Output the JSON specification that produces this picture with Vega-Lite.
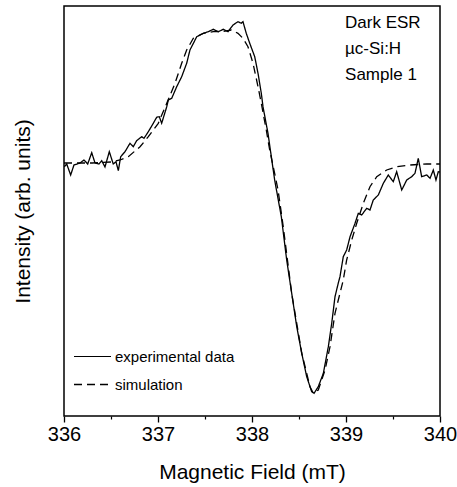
{
  "$schema": "https://vega.github.io/schema/vega-lite/v6.json",
  "width": 376,
  "height": 410,
  "autosize": "none",
  "padding": {"left": 64, "top": 6, "right": 17, "bottom": 71},
  "background": "white",
  "config": {
    "font": "Liberation Sans",
    "view": {"stroke": "black", "strokeWidth": 1.5},
    "axis": {"labelFont": "Liberation Sans", "titleFont": "Liberation Sans", "labelColor": "black", "titleColor": "black", "grid": false, "titleFontWeight": "normal"}
  },
  "datasets": {
    "esr": [
      {"f": 336.003, "v": -2.7, "s": "experimental data"},
      {"f": 336.029, "v": 0, "s": "experimental data"},
      {"f": 336.071, "v": -11, "s": "experimental data"},
      {"f": 336.106, "v": -1, "s": "experimental data"},
      {"f": 336.170, "v": 1, "s": "experimental data"},
      {"f": 336.213, "v": 4, "s": "experimental data"},
      {"f": 336.252, "v": 0, "s": "experimental data"},
      {"f": 336.295, "v": 11.3, "s": "experimental data"},
      {"f": 336.330, "v": 1, "s": "experimental data"},
      {"f": 336.372, "v": 0, "s": "experimental data"},
      {"f": 336.401, "v": 3.3, "s": "experimental data"},
      {"f": 336.436, "v": -3, "s": "experimental data"},
      {"f": 336.482, "v": 12.3, "s": "experimental data"},
      {"f": 336.524, "v": 0, "s": "experimental data"},
      {"f": 336.553, "v": 2.3, "s": "experimental data"},
      {"f": 336.578, "v": -6.7, "s": "experimental data"},
      {"f": 336.603, "v": 7.3, "s": "experimental data"},
      {"f": 336.649, "v": 12.3, "s": "experimental data"},
      {"f": 336.702, "v": 20.7, "s": "experimental data"},
      {"f": 336.737, "v": 17.3, "s": "experimental data"},
      {"f": 336.773, "v": 23.3, "s": "experimental data"},
      {"f": 336.827, "v": 27.3, "s": "experimental data"},
      {"f": 336.851, "v": 25.7, "s": "experimental data"},
      {"f": 336.897, "v": 32.3, "s": "experimental data"},
      {"f": 336.950, "v": 40.7, "s": "experimental data"},
      {"f": 336.986, "v": 46.7, "s": "experimental data"},
      {"f": 337.014, "v": 47.3, "s": "experimental data"},
      {"f": 337.039, "v": 40.7, "s": "experimental data"},
      {"f": 337.093, "v": 57.3, "s": "experimental data"},
      {"f": 337.110, "v": 64, "s": "experimental data"},
      {"f": 337.146, "v": 65.7, "s": "experimental data"},
      {"f": 337.199, "v": 77.3, "s": "experimental data"},
      {"f": 337.252, "v": 87.3, "s": "experimental data"},
      {"f": 337.305, "v": 100.7, "s": "experimental data"},
      {"f": 337.340, "v": 114, "s": "experimental data"},
      {"f": 337.412, "v": 127.3, "s": "experimental data"},
      {"f": 337.482, "v": 130.7, "s": "experimental data"},
      {"f": 337.535, "v": 132.3, "s": "experimental data"},
      {"f": 337.588, "v": 134.7, "s": "experimental data"},
      {"f": 337.641, "v": 132.3, "s": "experimental data"},
      {"f": 337.695, "v": 134.7, "s": "experimental data"},
      {"f": 337.745, "v": 132.3, "s": "experimental data"},
      {"f": 337.798, "v": 139, "s": "experimental data"},
      {"f": 337.851, "v": 142.3, "s": "experimental data"},
      {"f": 337.886, "v": 140.7, "s": "experimental data"},
      {"f": 337.904, "v": 142.3, "s": "experimental data"},
      {"f": 337.939, "v": 130.7, "s": "experimental data"},
      {"f": 337.976, "v": 120.7, "s": "experimental data"},
      {"f": 338.029, "v": 107.3, "s": "experimental data"},
      {"f": 338.064, "v": 90.7, "s": "experimental data"},
      {"f": 338.099, "v": 70.7, "s": "experimental data"},
      {"f": 338.117, "v": 57.3, "s": "experimental data"},
      {"f": 338.170, "v": 30.7, "s": "experimental data"},
      {"f": 338.241, "v": -16, "s": "experimental data"},
      {"f": 338.312, "v": -52.7, "s": "experimental data"},
      {"f": 338.369, "v": -96, "s": "experimental data"},
      {"f": 338.422, "v": -129, "s": "experimental data"},
      {"f": 338.476, "v": -162.7, "s": "experimental data"},
      {"f": 338.529, "v": -189.3, "s": "experimental data"},
      {"f": 338.582, "v": -212.7, "s": "experimental data"},
      {"f": 338.635, "v": -227.7, "s": "experimental data"},
      {"f": 338.660, "v": -229.3, "s": "experimental data"},
      {"f": 338.705, "v": -222.7, "s": "experimental data"},
      {"f": 338.759, "v": -209.3, "s": "experimental data"},
      {"f": 338.812, "v": -182.7, "s": "experimental data"},
      {"f": 338.848, "v": -159.3, "s": "experimental data"},
      {"f": 338.883, "v": -132.7, "s": "experimental data"},
      {"f": 338.918, "v": -119, "s": "experimental data"},
      {"f": 338.936, "v": -112.7, "s": "experimental data"},
      {"f": 338.971, "v": -92.7, "s": "experimental data"},
      {"f": 339.007, "v": -86, "s": "experimental data"},
      {"f": 339.043, "v": -72.7, "s": "experimental data"},
      {"f": 339.096, "v": -59.3, "s": "experimental data"},
      {"f": 339.131, "v": -49.3, "s": "experimental data"},
      {"f": 339.167, "v": -51, "s": "experimental data"},
      {"f": 339.220, "v": -44.3, "s": "experimental data"},
      {"f": 339.255, "v": -46, "s": "experimental data"},
      {"f": 339.290, "v": -36, "s": "experimental data"},
      {"f": 339.344, "v": -31, "s": "experimental data"},
      {"f": 339.397, "v": -19.3, "s": "experimental data"},
      {"f": 339.450, "v": -11, "s": "experimental data"},
      {"f": 339.503, "v": -17.7, "s": "experimental data"},
      {"f": 339.539, "v": -7.7, "s": "experimental data"},
      {"f": 339.593, "v": -26, "s": "experimental data"},
      {"f": 339.646, "v": -16, "s": "experimental data"},
      {"f": 339.699, "v": -12.7, "s": "experimental data"},
      {"f": 339.734, "v": -9.3, "s": "experimental data"},
      {"f": 339.769, "v": 5.7, "s": "experimental data"},
      {"f": 339.805, "v": -12.7, "s": "experimental data"},
      {"f": 339.859, "v": -11, "s": "experimental data"},
      {"f": 339.894, "v": -14.3, "s": "experimental data"},
      {"f": 339.929, "v": -6, "s": "experimental data"},
      {"f": 339.957, "v": -16, "s": "experimental data"},
      {"f": 339.982, "v": -7.7, "s": "experimental data"},
      {"f": 340.0, "v": -8, "s": "experimental data"},
      {"f": 336.0, "v": 1, "s": "simulation"},
      {"f": 336.3, "v": 1, "s": "simulation"},
      {"f": 336.5, "v": 2, "s": "simulation"},
      {"f": 336.596, "v": 4, "s": "simulation"},
      {"f": 336.684, "v": 7.3, "s": "simulation"},
      {"f": 336.809, "v": 17.3, "s": "simulation"},
      {"f": 336.897, "v": 27.3, "s": "simulation"},
      {"f": 337.003, "v": 40.7, "s": "simulation"},
      {"f": 337.093, "v": 60.7, "s": "simulation"},
      {"f": 337.181, "v": 80.7, "s": "simulation"},
      {"f": 337.252, "v": 100.7, "s": "simulation"},
      {"f": 337.305, "v": 114, "s": "simulation"},
      {"f": 337.376, "v": 125.7, "s": "simulation"},
      {"f": 337.482, "v": 130.7, "s": "simulation"},
      {"f": 337.588, "v": 132.3, "s": "simulation"},
      {"f": 337.678, "v": 132.3, "s": "simulation"},
      {"f": 337.780, "v": 134, "s": "simulation"},
      {"f": 337.851, "v": 130.7, "s": "simulation"},
      {"f": 337.904, "v": 125.7, "s": "simulation"},
      {"f": 337.957, "v": 117.3, "s": "simulation"},
      {"f": 338.011, "v": 100.7, "s": "simulation"},
      {"f": 338.064, "v": 77.3, "s": "simulation"},
      {"f": 338.099, "v": 60.7, "s": "simulation"},
      {"f": 338.152, "v": 34, "s": "simulation"},
      {"f": 338.188, "v": 14, "s": "simulation"},
      {"f": 338.241, "v": -9.3, "s": "simulation"},
      {"f": 338.277, "v": -26, "s": "simulation"},
      {"f": 338.330, "v": -61, "s": "simulation"},
      {"f": 338.422, "v": -129.3, "s": "simulation"},
      {"f": 338.529, "v": -189, "s": "simulation"},
      {"f": 338.617, "v": -222.7, "s": "simulation"},
      {"f": 338.652, "v": -229.3, "s": "simulation"},
      {"f": 338.705, "v": -226, "s": "simulation"},
      {"f": 338.777, "v": -206, "s": "simulation"},
      {"f": 338.830, "v": -182.7, "s": "simulation"},
      {"f": 338.883, "v": -149.3, "s": "simulation"},
      {"f": 338.918, "v": -136, "s": "simulation"},
      {"f": 338.971, "v": -116, "s": "simulation"},
      {"f": 339.007, "v": -96, "s": "simulation"},
      {"f": 339.061, "v": -76, "s": "simulation"},
      {"f": 339.114, "v": -59.3, "s": "simulation"},
      {"f": 339.184, "v": -39.3, "s": "simulation"},
      {"f": 339.255, "v": -22.7, "s": "simulation"},
      {"f": 339.327, "v": -12.7, "s": "simulation"},
      {"f": 339.433, "v": -6, "s": "simulation"},
      {"f": 339.539, "v": -2.7, "s": "simulation"},
      {"f": 339.681, "v": -1, "s": "simulation"},
      {"f": 339.859, "v": 0, "s": "simulation"},
      {"f": 340.0, "v": 0, "s": "simulation"}
    ]
  },
  "resolve": {"axis": {"x": "independent"}},
  "layer": [
    {
      "data": {"name": "esr"},
      "mark": {"type": "line", "color": "black", "strokeWidth": 1.3, "clip": true},
      "encoding": {
        "x": {"field": "f", "type": "quantitative", "scale": {"domain": [336, 340], "nice": false, "zero": false},
              "axis": {"values": [336, 337, 338, 339, 340], "format": "d", "orient": "bottom", "domain": false, "labelFlush": false, "labelOverlap": false, "labelBound": false, "tickColor": "black", "tickSize": 6, "tickWidth": 1.3, "labelFontSize": 20, "labelPadding": 2, "title": "Magnetic Field (mT)", "titleFontSize": 21, "titlePadding": 17}},
        "y": {"field": "v", "type": "quantitative", "scale": {"domain": [-252, 158], "nice": false, "zero": false},
              "axis": {"labels": false, "ticks": false, "domain": false, "title": "Intensity (arb. units)", "titleFontSize": 21, "titlePadding": 31}},
        "strokeDash": {"field": "s", "type": "nominal",
          "scale": {"domain": ["experimental data", "simulation"], "range": [[1, 0], [8, 5]]},
          "legend": {"title": null, "orient": "bottom-left", "offset": 23, "padding": 0, "symbolType": "stroke", "symbolSize": 1369, "symbolStrokeWidth": 1.5, "symbolStrokeColor": "black", "symbolOffset": -14, "labelFontSize": 15, "labelColor": "black", "labelOffset": 3, "rowPadding": -16, "labelFont": "Liberation Sans"}},
        "strokeWidth": {"field": "s", "type": "nominal", "scale": {"domain": ["experimental data", "simulation"], "range": [1.2, 1.7]}, "legend": null}
      }
    },
    {
      "data": {"values": [{}]},
      "mark": {"type": "text", "align": "left", "baseline": "alphabetic", "fontSize": 17, "lineHeight": 26, "lineBreak": "\n", "color": "black", "font": "Liberation Sans"},
      "encoding": {
        "x": {"datum": 338.99, "type": "quantitative",
              "axis": {"values": [336.5, 337.5, 338.5, 339.5], "orient": "bottom", "labels": false, "domain": false, "tickColor": "black", "tickSize": 3, "tickWidth": 1.2, "title": null}},
        "y": {"datum": 136, "type": "quantitative"},
        "text": {"value": "Dark ESR\nµc-Si:H\nSample 1"}
      }
    }
  ]
}
